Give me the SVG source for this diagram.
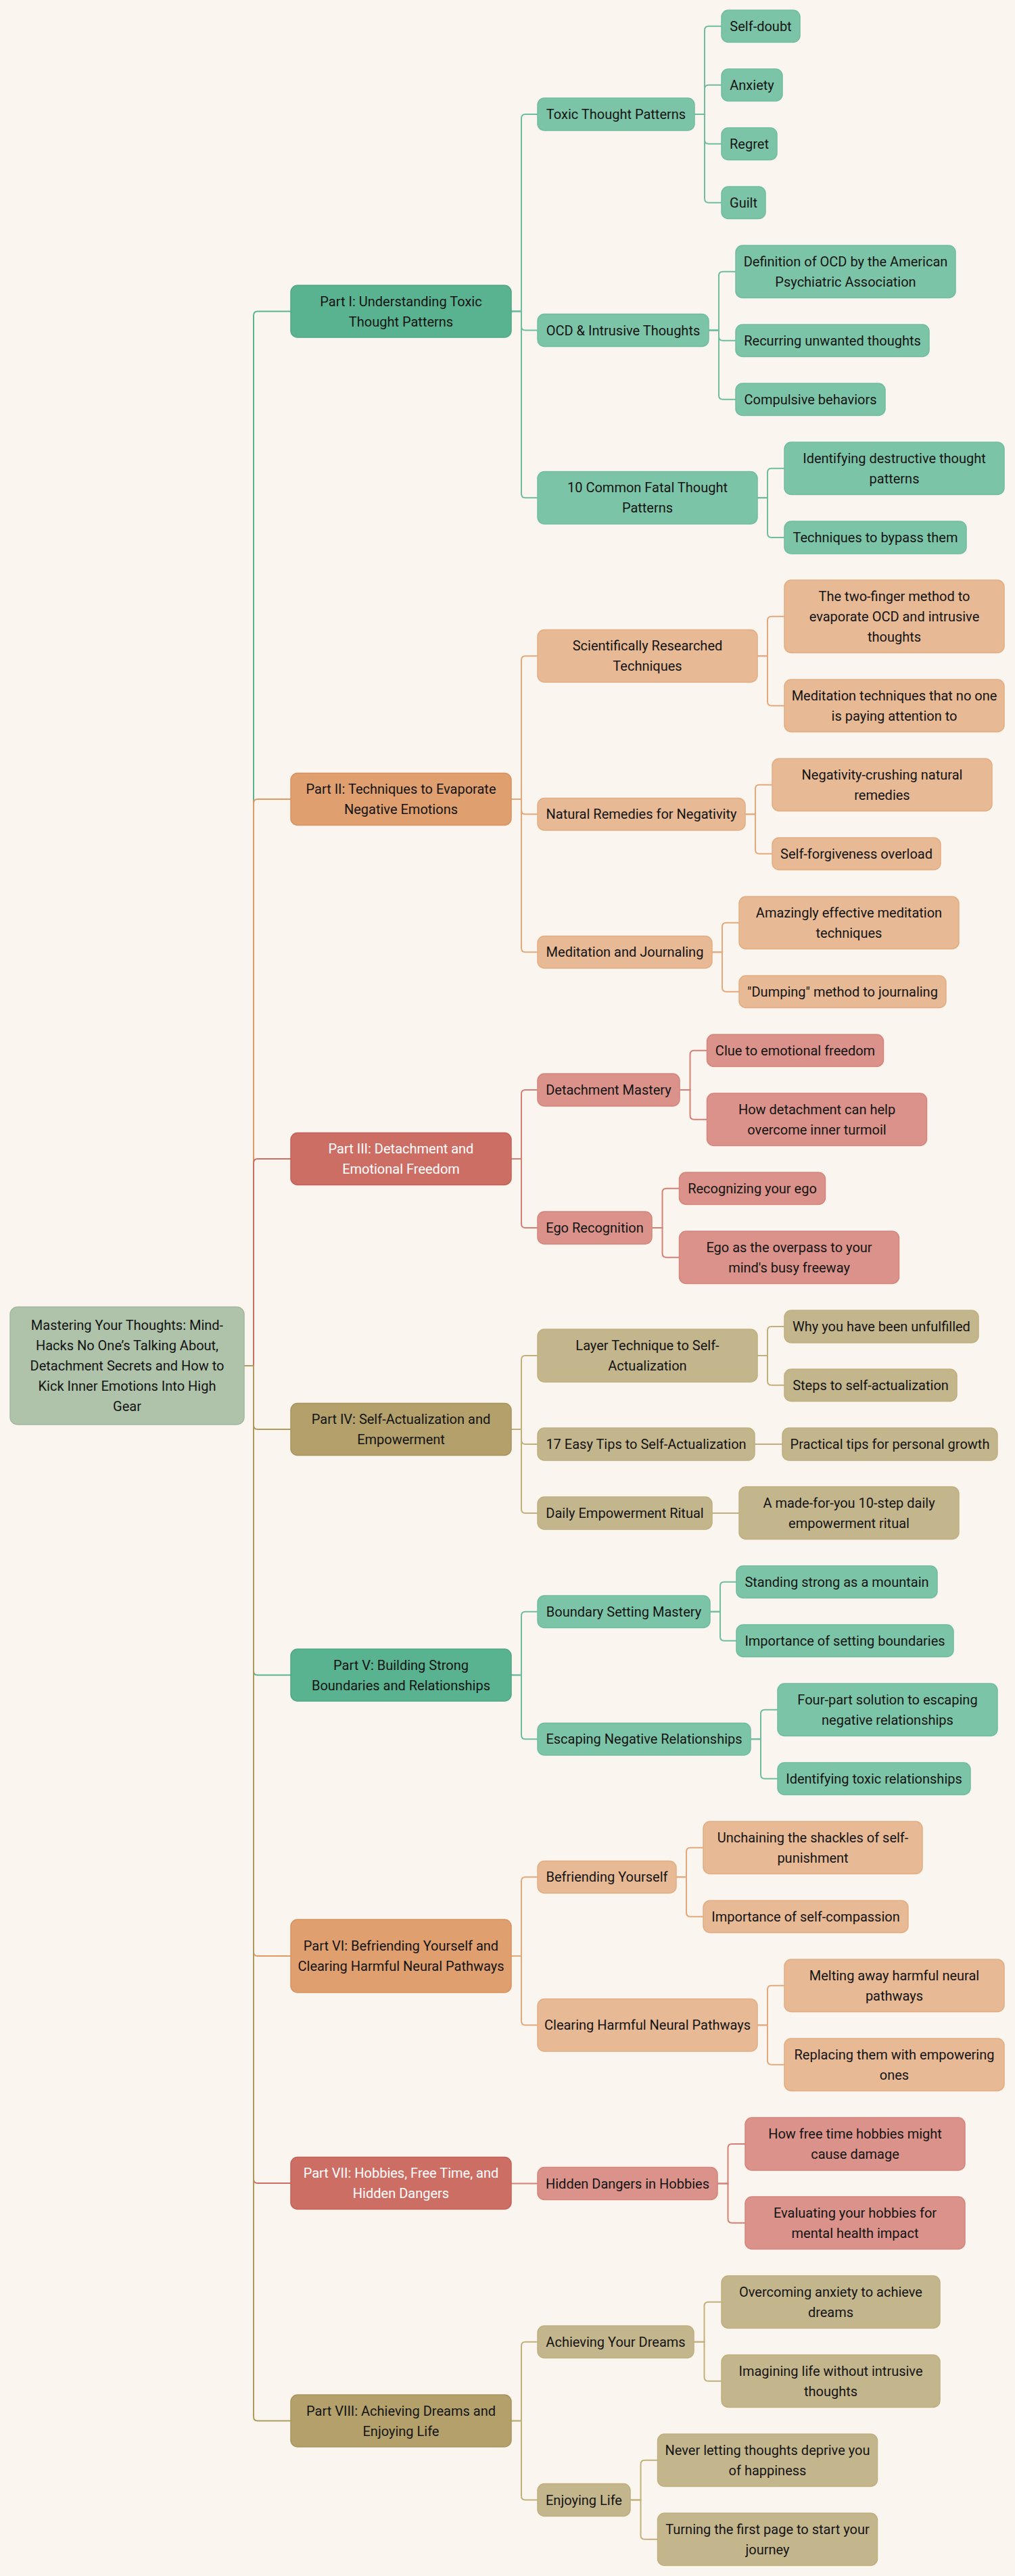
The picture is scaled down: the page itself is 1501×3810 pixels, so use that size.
<svg xmlns="http://www.w3.org/2000/svg" width="1501" height="3810" viewBox="0 0 1501 3810">
<style>
text{font-family:Roboto,"Liberation Sans",sans-serif;font-size:20px;fill:#141414;text-anchor:middle}
text.w{fill:#ffffff}
rect{stroke-width:1.5}
.root{fill:#afc3ab;stroke:#a2b79e}
.pg{fill:#5ab390;stroke:#4fa784}
.po{fill:#e09f6e;stroke:#d9925f}
.pr{fill:#cd6e65;stroke:#c4625a}
.py{fill:#b3a06a;stroke:#a8955e}
.lg{fill:#7cc4a7;stroke:#70bd9e}
.lo{fill:#e7b994;stroke:#e3ad82}
.lr{fill:#da928a;stroke:#d5857c}
.ly{fill:#c4b68c;stroke:#bfaf7f}
path{fill:none;stroke-width:2}
.cg{stroke:#5ab390}.co{stroke:#df9a66}.cr{stroke:#cd6e65}.cy{stroke:#b09a5e}
.kg{stroke:#6fbd9d}.ko{stroke:#e3a97d}.kr{stroke:#d57f76}.ky{stroke:#c2b07c}
</style>
<rect x="0" y="0" width="1501" height="3810" fill="#faf6ef" stroke="none"/>
<g id="connectors">
<path class="cg" d="M361 2020H375V466.5Q375 460.5 381 460.5H430"/>
<path class="co" d="M361 2020H375V1188Q375 1182 381 1182H430"/>
<path class="cr" d="M361 2020H375V1720Q375 1714 381 1714H430"/>
<path class="cy" d="M361 2020H375V2108Q375 2114 381 2114H430"/>
<path class="cg" d="M361 2020H375V2471.5Q375 2477.5 381 2477.5H430"/>
<path class="co" d="M361 2020H375V2887Q375 2893 381 2893H430"/>
<path class="cr" d="M361 2020H375V3223Q375 3229 381 3229H430"/>
<path class="cy" d="M361 2020H375V3574.5Q375 3580.5 381 3580.5H430"/>
<path class="kg" d="M756 460.5H771V175Q771 169 777 169H795"/>
<path class="kg" d="M756 460.5H771V482.5Q771 488.5 777 488.5H795"/>
<path class="kg" d="M756 460.5H771V730.25Q771 736.25 777 736.25H795"/>
<path class="ko" d="M756 1182H771V976.25Q771 970.25 777 970.25H795"/>
<path class="ko" d="M756 1182H771V1198.25Q771 1204.25 777 1204.25H795"/>
<path class="ko" d="M756 1182H771V1402.25Q771 1408.25 777 1408.25H795"/>
<path class="kr" d="M756 1714H771V1618Q771 1612 777 1612H795"/>
<path class="kr" d="M756 1714H771V1810Q771 1816 777 1816H795"/>
<path class="ky" d="M756 2114H771V2011Q771 2005 777 2005H795"/>
<path class="ky" d="M756 2114H771V2130Q771 2136 777 2136H795"/>
<path class="ky" d="M756 2114H771V2232Q771 2238 777 2238H795"/>
<path class="kg" d="M756 2477.5H771V2389.75Q771 2383.75 777 2383.75H795"/>
<path class="kg" d="M756 2477.5H771V2566.25Q771 2572.25 777 2572.25H795"/>
<path class="ko" d="M756 2893H771V2782.25Q771 2776.25 777 2776.25H795"/>
<path class="ko" d="M756 2893H771V2989.25Q771 2995.25 777 2995.25H795"/>
<path class="kr" d="M756 3229.5H795"/>
<path class="ky" d="M756 3580.5H771V3469.75Q771 3463.75 777 3463.75H795"/>
<path class="ky" d="M756 3580.5H771V3691.5Q771 3697.5 777 3697.5H795"/>
<path class="kg" d="M1027 169H1042V44.75Q1042 38.75 1048 38.75H1067"/>
<path class="kg" d="M1027 169H1042V131.75Q1042 125.75 1048 125.75H1067"/>
<path class="kg" d="M1027 169H1042V206.75Q1042 212.75 1048 212.75H1067"/>
<path class="kg" d="M1027 169H1042V293.75Q1042 299.75 1048 299.75H1067"/>
<path class="kg" d="M1048 488.5H1063V407.75Q1063 401.75 1069 401.75H1088"/>
<path class="kg" d="M1048 488.5H1063V497.75Q1063 503.75 1069 503.75H1088"/>
<path class="kg" d="M1048 488.5H1063V584.75Q1063 590.75 1069 590.75H1088"/>
<path class="kg" d="M1120 736.25H1135V698.75Q1135 692.75 1141 692.75H1160"/>
<path class="kg" d="M1120 736.25H1135V789Q1135 795 1141 795H1160"/>
<path class="ko" d="M1120 970.25H1135V917.75Q1135 911.75 1141 911.75H1160"/>
<path class="ko" d="M1120 970.25H1135V1037.75Q1135 1043.75 1141 1043.75H1160"/>
<path class="ko" d="M1102 1204.25H1117V1166.75Q1117 1160.75 1123 1160.75H1142"/>
<path class="ko" d="M1102 1204.25H1117V1256.75Q1117 1262.75 1123 1262.75H1142"/>
<path class="ko" d="M1053 1408.25H1068V1370.75Q1068 1364.75 1074 1364.75H1093"/>
<path class="ko" d="M1053 1408.25H1068V1460.75Q1068 1466.75 1074 1466.75H1093"/>
<path class="kr" d="M1005 1612H1020.5V1559.75Q1020.5 1553.75 1026.5 1553.75H1045.5"/>
<path class="kr" d="M1005 1612H1020.5V1649.75Q1020.5 1655.75 1026.5 1655.75H1045.5"/>
<path class="kr" d="M964 1816H979.5V1763.75Q979.5 1757.75 985.5 1757.75H1004.5"/>
<path class="kr" d="M964 1816H979.5V1853.75Q979.5 1859.75 985.5 1859.75H1004.5"/>
<path class="ky" d="M1120 2005H1135V1968Q1135 1962 1141 1962H1160"/>
<path class="ky" d="M1120 2005H1135V2042.75Q1135 2048.75 1141 2048.75H1160"/>
<path class="ky" d="M1116 2136H1157"/>
<path class="ky" d="M1053 2238H1093"/>
<path class="kg" d="M1050 2383.75H1065V2345.75Q1065 2339.75 1071 2339.75H1089"/>
<path class="kg" d="M1050 2383.75H1065V2420.75Q1065 2426.75 1071 2426.75H1089"/>
<path class="kg" d="M1110 2572.25H1125V2534.75Q1125 2528.75 1131 2528.75H1150"/>
<path class="kg" d="M1110 2572.25H1125V2624.75Q1125 2630.75 1131 2630.75H1150"/>
<path class="ko" d="M1000 2776.25H1015V2738.75Q1015 2732.75 1021 2732.75H1040"/>
<path class="ko" d="M1000 2776.25H1015V2828.75Q1015 2834.75 1021 2834.75H1040"/>
<path class="ko" d="M1120 2995.25H1135V2942.75Q1135 2936.75 1141 2936.75H1160"/>
<path class="ko" d="M1120 2995.25H1135V3047.75Q1135 3053.75 1141 3053.75H1160"/>
<path class="kr" d="M1061 3229.5H1076.5V3177Q1076.5 3171 1082.5 3171H1102"/>
<path class="kr" d="M1061 3229.5H1076.5V3281.75Q1076.5 3287.75 1082.5 3287.75H1102"/>
<path class="ky" d="M1026 3463.75H1041.5V3410.75Q1041.5 3404.75 1047.5 3404.75H1067"/>
<path class="ky" d="M1026 3463.75H1041.5V3515.75Q1041.5 3521.75 1047.5 3521.75H1067"/>
<path class="ky" d="M932 3697.5H947.5V3644.75Q947.5 3638.75 953.5 3638.75H972.5"/>
<path class="ky" d="M932 3697.5H947.5V3749.75Q947.5 3755.75 953.5 3755.75H972.5"/>
</g>
<g id="root"><rect class="root" x="15" y="1933" width="346" height="174" rx="11"/><text x="188"><tspan x="188" y="1967">Mastering Your Thoughts: Mind-</tspan><tspan x="188" y="1997">Hacks No One’s Talking About,</tspan><tspan x="188" y="2027">Detachment Secrets and How to</tspan><tspan x="188" y="2057">Kick Inner Emotions Into High</tspan><tspan x="188" y="2087">Gear</tspan></text></g>
<g id="part1"><rect class="pg" x="430" y="422" width="326" height="77" rx="10"/><text><tspan x="593" y="452.5">Part I: Understanding Toxic</tspan><tspan x="593" y="482.5">Thought Patterns</tspan></text></g>
<g id="part2"><rect class="po" x="430" y="1143.5" width="326" height="77" rx="10"/><text><tspan x="593" y="1174">Part II: Techniques to Evaporate</tspan><tspan x="593" y="1204">Negative Emotions</tspan></text></g>
<g id="part3"><rect class="pr" x="430" y="1675.5" width="326" height="77" rx="10"/><text class="w"><tspan x="593" y="1706">Part III: Detachment and</tspan><tspan x="593" y="1736">Emotional Freedom</tspan></text></g>
<g id="part4"><rect class="py" x="430" y="2075.5" width="326" height="77" rx="10"/><text><tspan x="593" y="2106">Part IV: Self-Actualization and</tspan><tspan x="593" y="2136">Empowerment</tspan></text></g>
<g id="part5"><rect class="pg" x="430" y="2439" width="326" height="77" rx="10"/><text><tspan x="593" y="2469.5">Part V: Building Strong</tspan><tspan x="593" y="2499.5">Boundaries and Relationships</tspan></text></g>
<g id="part6"><rect class="po" x="430" y="2839" width="326" height="108" rx="10"/><text><tspan x="593" y="2885">Part VI: Befriending Yourself and</tspan><tspan x="593" y="2915">Clearing Harmful Neural Pathways</tspan></text></g>
<g id="part7"><rect class="pr" x="430" y="3190.5" width="326" height="77" rx="10"/><text class="w"><tspan x="593" y="3221">Part VII: Hobbies, Free Time, and</tspan><tspan x="593" y="3251">Hidden Dangers</tspan></text></g>
<g id="part8"><rect class="py" x="430" y="3542" width="326" height="77" rx="10"/><text><tspan x="593" y="3572.5">Part VIII: Achieving Dreams and</tspan><tspan x="593" y="3602.5">Enjoying Life</tspan></text></g>
<g id="toxic-thought-patterns"><rect class="lg" x="795" y="145" width="232" height="48" rx="10"/><text x="911" y="176">Toxic Thought Patterns</text></g>
<g id="ocd-intrusive"><rect class="lg" x="795" y="464.5" width="253" height="48" rx="10"/><text x="921.5" y="495.5">OCD &amp; Intrusive Thoughts</text></g>
<g id="ten-common"><rect class="lg" x="795" y="697.5" width="325" height="77.5" rx="10"/><text><tspan x="957.5" y="728.25">10 Common Fatal Thought</tspan><tspan x="957.5" y="758.25">Patterns</tspan></text></g>
<g id="scientific"><rect class="lo" x="795" y="931.5" width="325" height="77.5" rx="10"/><text><tspan x="957.5" y="962.25">Scientifically Researched</tspan><tspan x="957.5" y="992.25">Techniques</tspan></text></g>
<g id="natural-remedies"><rect class="lo" x="795" y="1180.5" width="307" height="47.5" rx="10"/><text x="948.5" y="1211.25">Natural Remedies for Negativity</text></g>
<g id="meditation-journaling"><rect class="lo" x="795" y="1384.5" width="258" height="47.5" rx="10"/><text x="924" y="1415.25">Meditation and Journaling</text></g>
<g id="detachment-mastery"><rect class="lr" x="795" y="1588" width="210" height="48" rx="10"/><text x="900" y="1619">Detachment Mastery</text></g>
<g id="ego-recognition"><rect class="lr" x="795" y="1792" width="169" height="48" rx="10"/><text x="879.5" y="1823">Ego Recognition</text></g>
<g id="layer-technique"><rect class="ly" x="795" y="1966" width="325" height="78" rx="10"/><text><tspan x="957.5" y="1997">Layer Technique to Self-</tspan><tspan x="957.5" y="2027">Actualization</tspan></text></g>
<g id="easy-tips"><rect class="ly" x="795" y="2112" width="321" height="48" rx="10"/><text x="955.5" y="2143">17 Easy Tips to Self-Actualization</text></g>
<g id="daily-ritual"><rect class="ly" x="795" y="2214" width="258" height="48" rx="10"/><text x="924" y="2245">Daily Empowerment Ritual</text></g>
<g id="boundary-mastery"><rect class="lg" x="795" y="2360" width="255" height="47.5" rx="10"/><text x="922.5" y="2390.75">Boundary Setting Mastery</text></g>
<g id="escaping-negative"><rect class="lg" x="795" y="2548.5" width="315" height="47.5" rx="10"/><text x="952.5" y="2579.25">Escaping Negative Relationships</text></g>
<g id="befriending-yourself"><rect class="lo" x="795" y="2752.5" width="205" height="47.5" rx="10"/><text x="897.5" y="2783.25">Befriending Yourself</text></g>
<g id="clearing-pathways"><rect class="lo" x="795" y="2956.5" width="325" height="77.5" rx="10"/><text x="957.5" y="3002.25">Clearing Harmful Neural Pathways</text></g>
<g id="hidden-dangers"><rect class="lr" x="795" y="3205.5" width="266" height="48" rx="10"/><text x="928" y="3236.5">Hidden Dangers in Hobbies</text></g>
<g id="achieving-dreams"><rect class="ly" x="795" y="3440" width="231" height="47.5" rx="10"/><text x="910.5" y="3470.75">Achieving Your Dreams</text></g>
<g id="enjoying-life"><rect class="ly" x="795" y="3673.5" width="137" height="48" rx="10"/><text x="863.5" y="3704.5">Enjoying Life</text></g>
<g id="self-doubt"><rect class="lg" x="1067" y="15" width="116" height="47.5" rx="10"/><text x="1125" y="45.75">Self-doubt</text></g>
<g id="anxiety"><rect class="lg" x="1067" y="102" width="90" height="47.5" rx="10"/><text x="1112" y="132.75">Anxiety</text></g>
<g id="regret"><rect class="lg" x="1067" y="189" width="82" height="47.5" rx="10"/><text x="1108" y="219.75">Regret</text></g>
<g id="guilt"><rect class="lg" x="1067" y="276" width="65" height="47.5" rx="10"/><text x="1099.5" y="306.75">Guilt</text></g>
<g id="ocd-definition"><rect class="lg" x="1088" y="363" width="325" height="77.5" rx="10"/><text><tspan x="1250.5" y="393.75">Definition of OCD by the American</tspan><tspan x="1250.5" y="423.75">Psychiatric Association</tspan></text></g>
<g id="recurring"><rect class="lg" x="1088" y="480" width="286" height="47.5" rx="10"/><text x="1231" y="510.75">Recurring unwanted thoughts</text></g>
<g id="compulsive"><rect class="lg" x="1088" y="567" width="221" height="47.5" rx="10"/><text x="1198.5" y="597.75">Compulsive behaviors</text></g>
<g id="identifying-destructive"><rect class="lg" x="1160" y="654" width="325" height="77.5" rx="10"/><text><tspan x="1322.5" y="684.75">Identifying destructive thought</tspan><tspan x="1322.5" y="714.75">patterns</tspan></text></g>
<g id="techniques-bypass"><rect class="lg" x="1160" y="771" width="269" height="48" rx="10"/><text x="1294.5" y="802">Techniques to bypass them</text></g>
<g id="two-finger"><rect class="lo" x="1160" y="858" width="325" height="107.5" rx="10"/><text><tspan x="1322.5" y="888.75">The two-finger method to</tspan><tspan x="1322.5" y="918.75">evaporate OCD and intrusive</tspan><tspan x="1322.5" y="948.75">thoughts</tspan></text></g>
<g id="meditation-techniques"><rect class="lo" x="1160" y="1005" width="325" height="77.5" rx="10"/><text><tspan x="1322.5" y="1035.75">Meditation techniques that no one</tspan><tspan x="1322.5" y="1065.75">is paying attention to</tspan></text></g>
<g id="negativity-crushing"><rect class="lo" x="1142" y="1122" width="325" height="77.5" rx="10"/><text><tspan x="1304.5" y="1152.75">Negativity-crushing natural</tspan><tspan x="1304.5" y="1182.75">remedies</tspan></text></g>
<g id="self-forgiveness"><rect class="lo" x="1142" y="1239" width="249" height="47.5" rx="10"/><text x="1266.5" y="1269.75">Self-forgiveness overload</text></g>
<g id="amazingly-effective"><rect class="lo" x="1093" y="1326" width="325" height="77.5" rx="10"/><text><tspan x="1255.5" y="1356.75">Amazingly effective meditation</tspan><tspan x="1255.5" y="1386.75">techniques</tspan></text></g>
<g id="dumping"><rect class="lo" x="1093" y="1443" width="306" height="47.5" rx="10"/><text x="1246" y="1473.75">"Dumping" method to journaling</text></g>
<g id="clue"><rect class="lr" x="1045.5" y="1530" width="261" height="47.5" rx="10"/><text x="1176" y="1560.75">Clue to emotional freedom</text></g>
<g id="how-detachment"><rect class="lr" x="1045.5" y="1617" width="325" height="77.5" rx="10"/><text><tspan x="1208" y="1647.75">How detachment can help</tspan><tspan x="1208" y="1677.75">overcome inner turmoil</tspan></text></g>
<g id="recognizing-ego"><rect class="lr" x="1004.5" y="1734" width="216" height="47.5" rx="10"/><text x="1112.5" y="1764.75">Recognizing your ego</text></g>
<g id="ego-overpass"><rect class="lr" x="1004.5" y="1821" width="325" height="77.5" rx="10"/><text><tspan x="1167" y="1851.75">Ego as the overpass to your</tspan><tspan x="1167" y="1881.75">mind's busy freeway</tspan></text></g>
<g id="unfulfilled"><rect class="ly" x="1160" y="1938" width="287" height="48" rx="10"/><text x="1303.5" y="1969">Why you have been unfulfilled</text></g>
<g id="steps"><rect class="ly" x="1160" y="2025" width="255" height="47.5" rx="10"/><text x="1287.5" y="2055.75">Steps to self-actualization</text></g>
<g id="practical-tips"><rect class="ly" x="1157" y="2112" width="318" height="48" rx="10"/><text x="1316" y="2143">Practical tips for personal growth</text></g>
<g id="made-for-you"><rect class="ly" x="1093" y="2199" width="325" height="77.5" rx="10"/><text><tspan x="1255.5" y="2229.75">A made-for-you 10-step daily</tspan><tspan x="1255.5" y="2259.75">empowerment ritual</tspan></text></g>
<g id="standing-strong"><rect class="lg" x="1089" y="2316" width="297" height="47.5" rx="10"/><text x="1237.5" y="2346.75">Standing strong as a mountain</text></g>
<g id="importance-boundaries"><rect class="lg" x="1089" y="2403" width="321" height="47.5" rx="10"/><text x="1249.5" y="2433.75">Importance of setting boundaries</text></g>
<g id="four-part"><rect class="lg" x="1150" y="2490" width="325" height="77.5" rx="10"/><text><tspan x="1312.5" y="2520.75">Four-part solution to escaping</tspan><tspan x="1312.5" y="2550.75">negative relationships</tspan></text></g>
<g id="identifying-toxic"><rect class="lg" x="1150" y="2607" width="285" height="47.5" rx="10"/><text x="1292.5" y="2637.75">Identifying toxic relationships</text></g>
<g id="unchaining"><rect class="lo" x="1040" y="2694" width="324" height="77.5" rx="10"/><text><tspan x="1202" y="2724.75">Unchaining the shackles of self-</tspan><tspan x="1202" y="2754.75">punishment</tspan></text></g>
<g id="self-compassion"><rect class="lo" x="1040" y="2811" width="303" height="47.5" rx="10"/><text x="1191.5" y="2841.75">Importance of self-compassion</text></g>
<g id="melting"><rect class="lo" x="1160" y="2898" width="325" height="77.5" rx="10"/><text><tspan x="1322.5" y="2928.75">Melting away harmful neural</tspan><tspan x="1322.5" y="2958.75">pathways</tspan></text></g>
<g id="replacing"><rect class="lo" x="1160" y="3015" width="325" height="77.5" rx="10"/><text><tspan x="1322.5" y="3045.75">Replacing them with empowering</tspan><tspan x="1322.5" y="3075.75">ones</tspan></text></g>
<g id="free-time"><rect class="lr" x="1102" y="3132" width="325" height="78" rx="10"/><text><tspan x="1264.5" y="3163">How free time hobbies might</tspan><tspan x="1264.5" y="3193">cause damage</tspan></text></g>
<g id="evaluating"><rect class="lr" x="1102" y="3249" width="325" height="77.5" rx="10"/><text><tspan x="1264.5" y="3279.75">Evaluating your hobbies for</tspan><tspan x="1264.5" y="3309.75">mental health impact</tspan></text></g>
<g id="overcoming"><rect class="ly" x="1067" y="3366" width="323" height="77.5" rx="10"/><text><tspan x="1228.5" y="3396.75">Overcoming anxiety to achieve</tspan><tspan x="1228.5" y="3426.75">dreams</tspan></text></g>
<g id="imagining"><rect class="ly" x="1067" y="3483" width="323" height="77.5" rx="10"/><text><tspan x="1228.5" y="3513.75">Imagining life without intrusive</tspan><tspan x="1228.5" y="3543.75">thoughts</tspan></text></g>
<g id="never-letting"><rect class="ly" x="972.5" y="3600" width="325" height="77.5" rx="10"/><text><tspan x="1135" y="3630.75">Never letting thoughts deprive you</tspan><tspan x="1135" y="3660.75">of happiness</tspan></text></g>
<g id="turning-page"><rect class="ly" x="972.5" y="3717" width="325" height="77.5" rx="10"/><text><tspan x="1135" y="3747.75">Turning the first page to start your</tspan><tspan x="1135" y="3777.75">journey</tspan></text></g>
</svg>
